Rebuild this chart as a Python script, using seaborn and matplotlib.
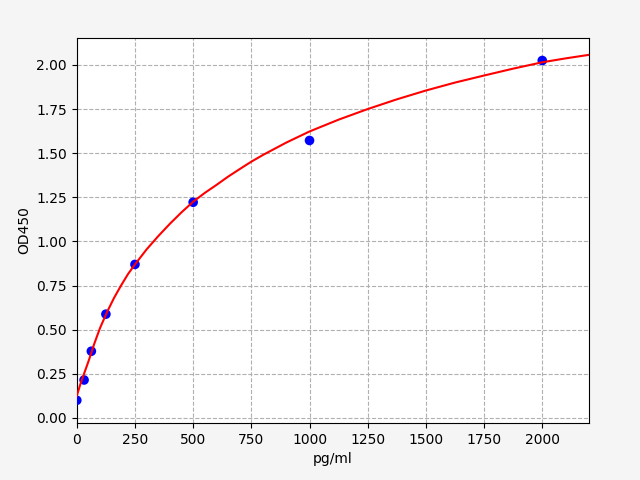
import matplotlib
matplotlib.use('Agg')
import matplotlib.pyplot as plt
import seaborn as sns
import pandas as pd

# standard points
conc = [0, 31.25, 62.5, 125, 250, 500, 1000, 2000]
od = [0.100, 0.215, 0.378, 0.588, 0.870, 1.222, 1.572, 2.025]

# fitted curve
curve_x = [0, 15, 31, 50, 75, 100, 130, 160, 190, 220, 250, 300, 350, 400,
           450, 500, 550, 600, 650, 700, 750, 800, 900, 1000, 1125, 1250,
           1375, 1500, 1625, 1750, 1875, 2000, 2100, 2200]
curve_y = [0.125, 0.19, 0.25, 0.32, 0.42, 0.51, 0.60, 0.68, 0.75, 0.815,
           0.87, 0.955, 1.03, 1.10, 1.165, 1.225, 1.275, 1.32, 1.367, 1.41,
           1.452, 1.49, 1.56, 1.623, 1.69, 1.75, 1.805, 1.855, 1.90, 1.94,
           1.979, 2.015, 2.037, 2.057]

pts = pd.DataFrame({'pg/ml': conc, 'OD450': od})
fit = pd.DataFrame({'pg/ml': curve_x, 'OD450': curve_y})

fig, ax = plt.subplots(figsize=(6.4, 4.8), dpi=100)
fig.patch.set_facecolor('#f5f5f5')
fig.subplots_adjust(left=0.120, right=0.920, top=0.921, bottom=0.119)

sns.scatterplot(data=pts, x='pg/ml', y='OD450', color='blue', s=48,
                edgecolor='none', ax=ax, zorder=3)
sns.lineplot(data=fit, x='pg/ml', y='OD450', color='red', linewidth=1.5,
             ax=ax, zorder=4, sort=True)

ax.set_xlim(0, 2200)
ax.set_ylim(-0.028, 2.153)
ax.grid(True, linestyle='--', color='#b0b0b0', linewidth=0.8)
ax.set_axisbelow(True)
ax.set_xlabel('pg/ml')
ax.set_ylabel('OD450')

fig.savefig('out.png', dpi=100, facecolor=fig.get_facecolor())
